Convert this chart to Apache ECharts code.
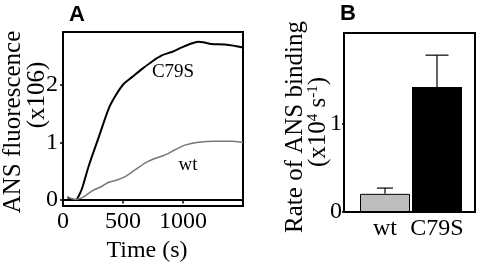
<!DOCTYPE html>
<html>
<head>
<meta charset="utf-8">
<script src="https://cdn.jsdelivr.net/npm/echarts@6/dist/echarts.min.js"></script>
<style>
  html, body { margin: 0; padding: 0; background: #fff; }
  #chart { width: 480px; height: 268px; }
</style>
</head>
<body>
<div id="chart"></div>
<script>
// Panel A: ANS fluorescence time courses (time in s, fluorescence x10^6)
const c79sCurve = [
  [36, 0.04], [64, 0.01], [105, -0.01], [133, 0.07], [160, 0.2], [215, 0.59],
  [298, 1.09], [381, 1.59], [436, 1.81], [505, 2.02], [575, 2.14], [657, 2.28],
  [740, 2.41], [823, 2.52], [906, 2.58], [989, 2.66], [1058, 2.72], [1127, 2.76],
  [1168, 2.75], [1237, 2.72], [1348, 2.71], [1500, 2.66]
];
const wtCurve = [
  [36, 0.04], [105, 0.0], [160, 0.03], [243, 0.15], [326, 0.23], [381, 0.3],
  [450, 0.34], [519, 0.4], [602, 0.52], [713, 0.67], [851, 0.78], [934, 0.87],
  [1016, 0.95], [1127, 1.0], [1265, 1.02], [1403, 1.02], [1500, 1.0]
];
const timeTicks = [0, 500, 1000];
const fluorTicks = [0, 1, 2];

// Panel B: rate of ANS binding (x10^4 s^-1)
const variants = ['wt', 'C79S'];
const rates = [0.205, 1.41];
const rateErrTop = [0.27, 1.77];
const rateTicks = [0, 1];
const capWidths = [16, 23];

const serif = 'Liberation Serif';
const chart = echarts.init(document.getElementById('chart'));

const axisFont = { fontFamily: serif, fontSize: 24, color: '#000' };

chart.setOption({
  animation: false,
  grid: [
    { left: 63, top: 32, width: 180, height: 183, show: true, borderColor: '#000', borderWidth: 2 },
    { left: 344, top: 33, width: 131, height: 179, show: true, borderColor: '#000', borderWidth: 2 },
    { left: 359, top: 33, width: 104, height: 179 }
  ],
  xAxis: [
    {
      gridIndex: 0, type: 'value', min: 0, max: 1500, interval: 500,
      axisLine: { lineStyle: { color: '#000', width: 2 } },
      axisTick: { inside: false, length: 4, lineStyle: { color: '#000', width: 1.5 } },
      axisLabel: Object.assign({ margin: 4, formatter: v => timeTicks.includes(v) ? String(v) : '' }, axisFont),
      splitLine: { show: false },
      name: 'Time (s)', nameLocation: 'middle', nameGap: 21,
      nameTextStyle: Object.assign({ padding: [0, 12, 0, 0] }, axisFont)
    },
    {
      gridIndex: 1, type: 'value', min: 0, max: 1,
      axisLine: { lineStyle: { color: '#000', width: 2 } },
      axisTick: { show: false }, axisLabel: { show: false }, splitLine: { show: false }
    },
    {
      gridIndex: 2, type: 'category', data: variants,
      axisLine: { show: false }, axisTick: { show: false },
      axisLabel: Object.assign({ margin: 5, interval: 0 }, axisFont)
    }
  ],
  yAxis: [
    {
      gridIndex: 0, type: 'value', min: -0.117, max: 2.93,
      axisLine: { show: true, lineStyle: { color: '#000', width: 2 } },
      axisTick: { show: true, length: 3, customValues: fluorTicks, lineStyle: { color: '#000', width: 1.5 } },
      axisLabel: Object.assign({ margin: 5, customValues: fluorTicks }, axisFont),
      splitLine: { show: false }
    },
    {
      gridIndex: 1, type: 'value', min: 0, max: 2.02,
      axisLine: { show: true, lineStyle: { color: '#000', width: 2 } },
      axisTick: { show: true, length: 2, customValues: rateTicks, lineStyle: { color: '#000', width: 1.5 } },
      axisLabel: Object.assign({ margin: 2, customValues: rateTicks }, axisFont),
      splitLine: { show: false }
    },
    {
      gridIndex: 2, type: 'value', min: 0, max: 2.02, show: false
    }
  ],
  series: [
    {
      type: 'line', xAxisIndex: 0, yAxisIndex: 0, data: c79sCurve,
      showSymbol: false, smooth: 0.3, lineStyle: { color: '#000', width: 2 }
    },
    {
      type: 'line', xAxisIndex: 0, yAxisIndex: 0, data: wtCurve,
      showSymbol: false, smooth: 0.3, lineStyle: { color: '#777', width: 1.5 }
    },
    {
      type: 'bar', xAxisIndex: 2, yAxisIndex: 2, barWidth: 50,
      data: rates.map((v, i) => ({
        value: v,
        itemStyle: i === 0
          ? { color: '#bdbdbd', borderColor: '#000', borderWidth: 1 }
          : { color: '#000' }
      }))
    },
    {
      type: 'custom', xAxisIndex: 2, yAxisIndex: 2,
      data: rates.map((v, i) => [i, v, rateErrTop[i]]),
      renderItem: (params, api) => {
        const lo = api.coord([api.value(0), api.value(1)]);
        const hi = api.coord([api.value(0), api.value(2)]);
        const half = capWidths[params.dataIndex] / 2;
        const st = { stroke: '#000', lineWidth: 1.2 };
        return {
          type: 'group',
          children: [
            { type: 'line', shape: { x1: lo[0], y1: lo[1], x2: hi[0], y2: hi[1] }, style: st },
            { type: 'line', shape: { x1: hi[0] - half, y1: hi[1], x2: hi[0] + half, y2: hi[1] }, style: st }
          ]
        };
      }
    }
  ],
  graphic: [
    { type: 'text', x: 77, y: 15, style: { text: 'A', font: 'bold 22px Liberation Sans', fill: '#000', align: 'center', verticalAlign: 'middle' } },
    { type: 'text', x: 348, y: 14, style: { text: 'B', font: 'bold 22px Liberation Sans', fill: '#000', align: 'center', verticalAlign: 'middle' } },
    { type: 'text', x: 13, y: 122, rotation: Math.PI / 2, style: { text: 'ANS fluorescence', font: '25px ' + serif, fill: '#000', align: 'center', verticalAlign: 'middle' } },
    { type: 'text', x: 37, y: 95, rotation: Math.PI / 2, style: { text: '(x106)', font: '25px ' + serif, fill: '#000', align: 'center', verticalAlign: 'middle' } },
    { type: 'text', x: 295, y: 127, rotation: Math.PI / 2, style: { text: 'Rate of ANS binding', font: '25px ' + serif, fill: '#000', align: 'center', verticalAlign: 'middle' } },
    {
      type: 'text', x: 318, y: 122, rotation: Math.PI / 2,
      style: {
        text: '(x10{sup|4} s{sup|-1})', font: '25px ' + serif, fill: '#000', align: 'center', verticalAlign: 'middle',
        rich: { sup: { fontFamily: serif, fontSize: 15, verticalAlign: 'top', padding: [0, 0, 10, 0] } }
      }
    },
    { type: 'text', x: 173, y: 72, style: { text: 'C79S', font: '19px ' + serif, fill: '#000', align: 'center', verticalAlign: 'middle' } },
    { type: 'text', x: 188, y: 165, style: { text: 'wt', font: '19px ' + serif, fill: '#000', align: 'center', verticalAlign: 'middle' } }
  ]
});
</script>
</body>
</html>
